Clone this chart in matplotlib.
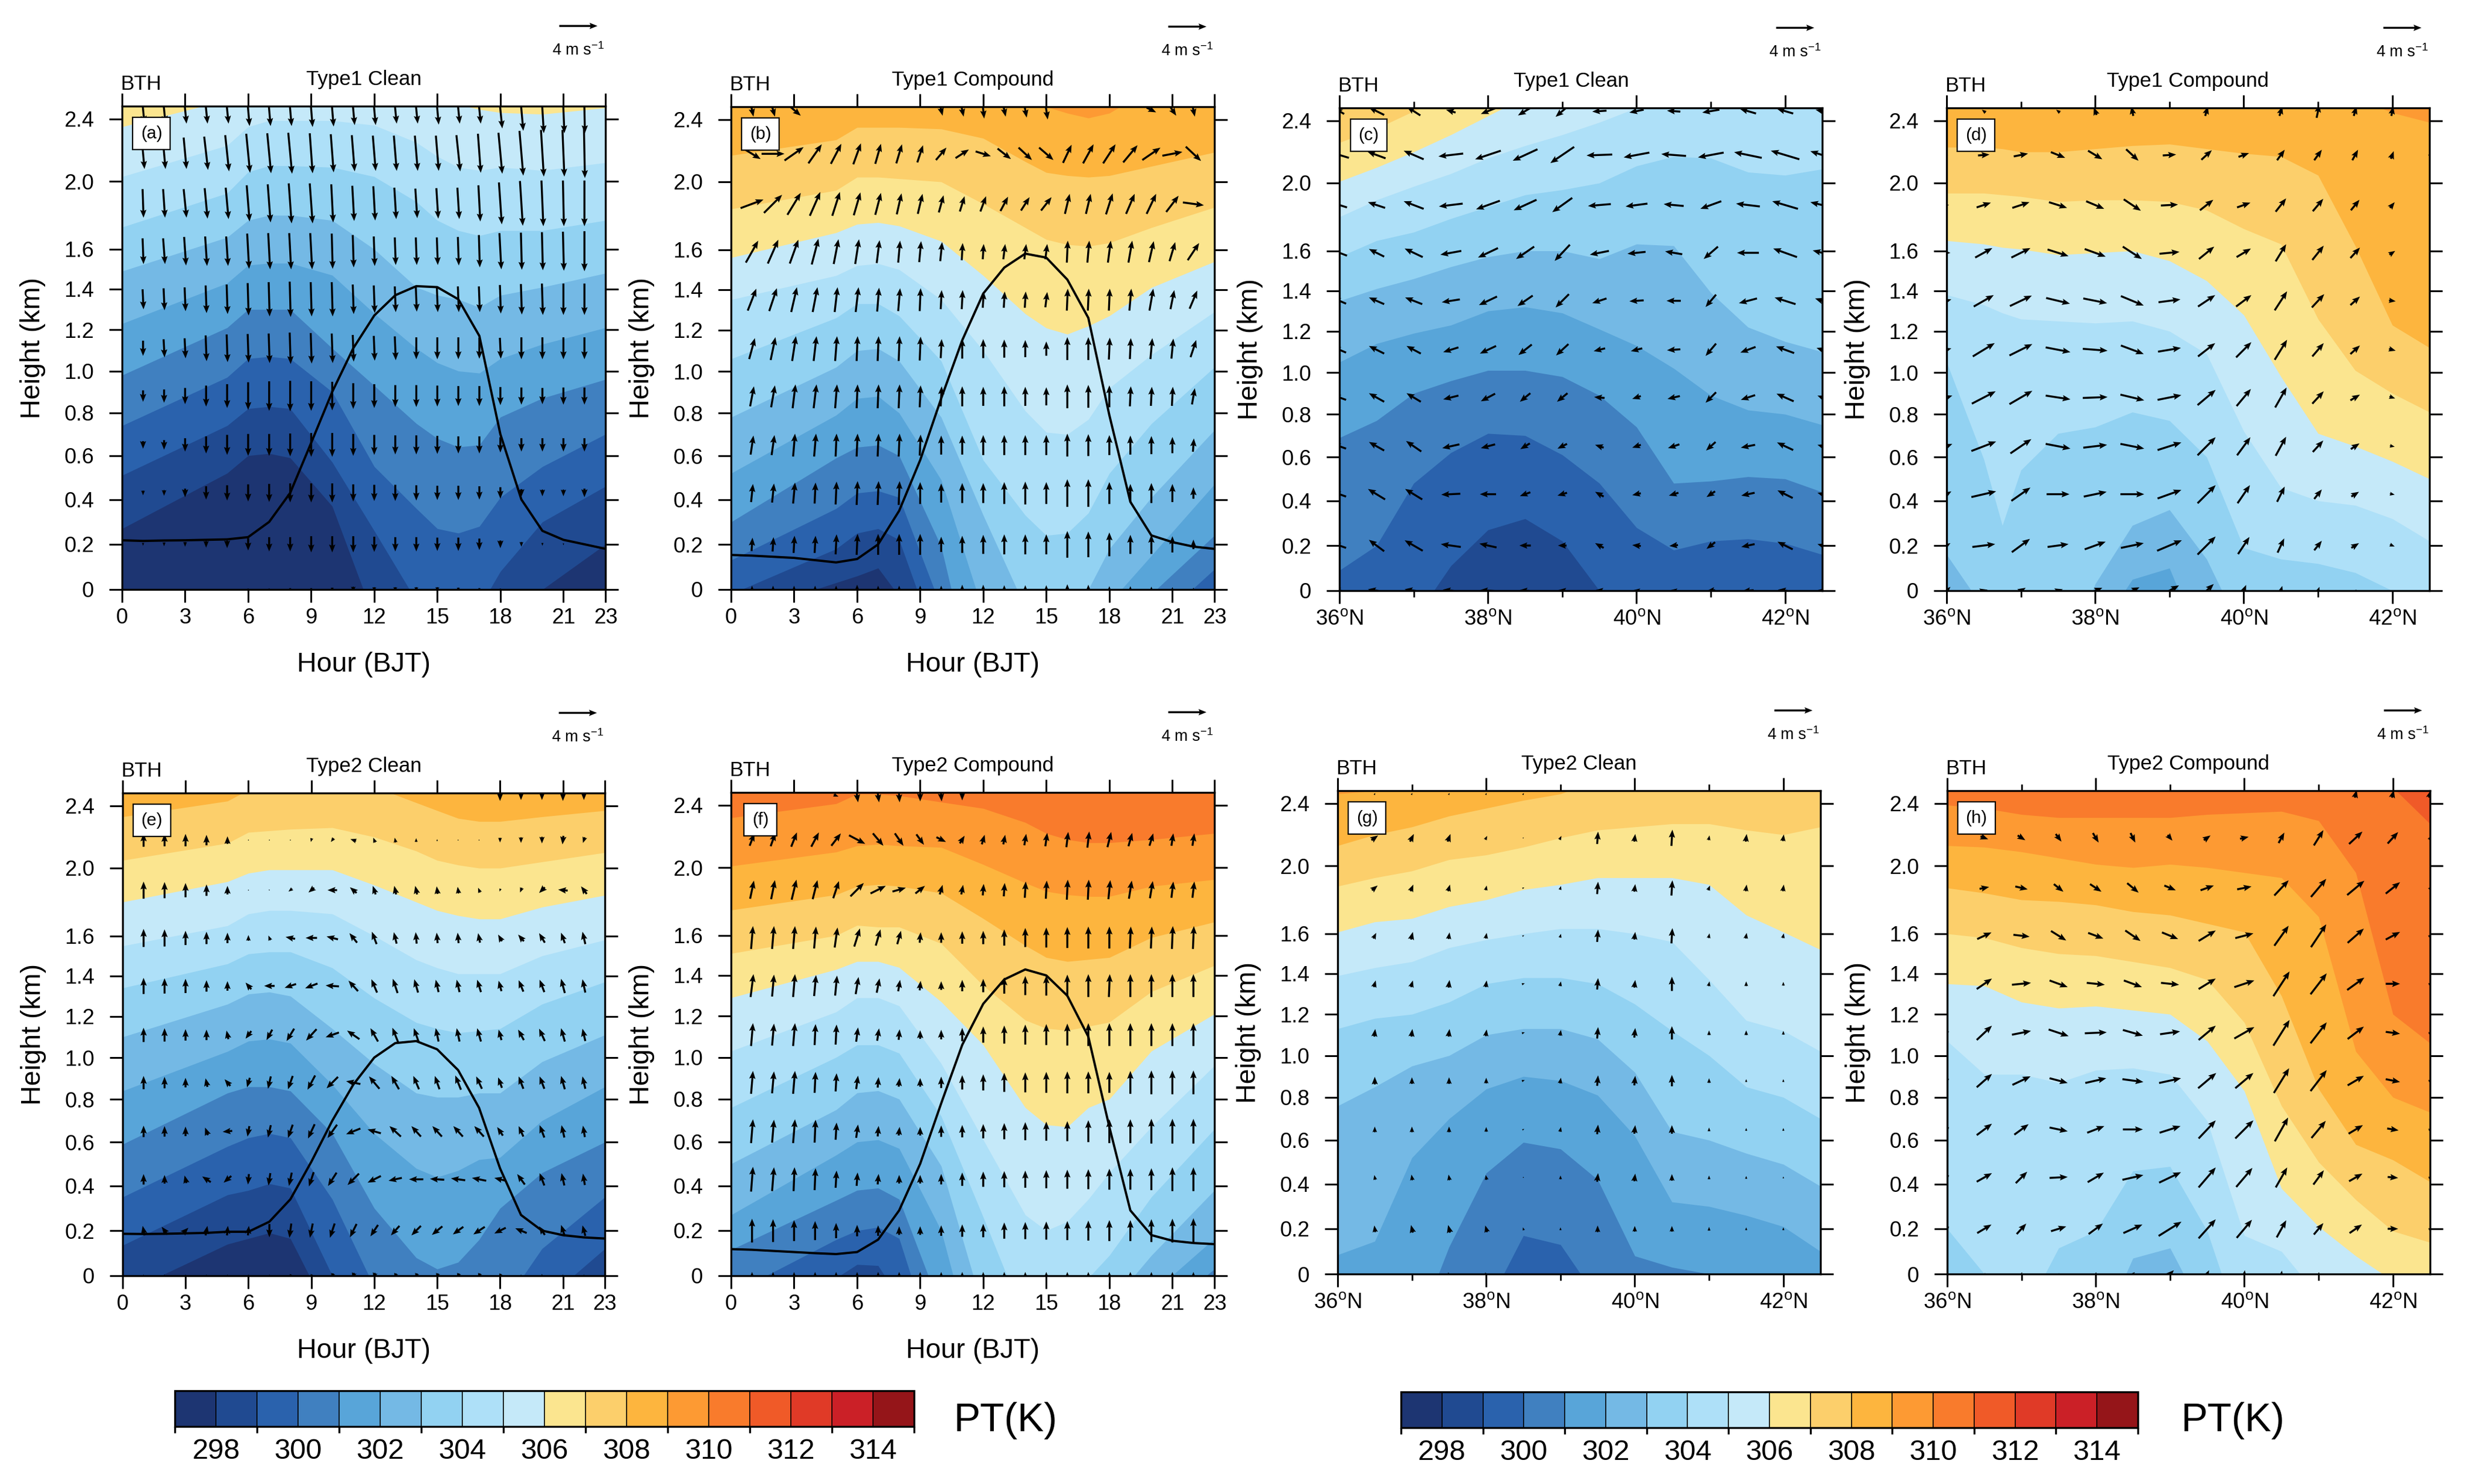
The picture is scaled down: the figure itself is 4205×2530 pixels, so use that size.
import numpy as np
import matplotlib
matplotlib.use("Agg")
import matplotlib.pyplot as plt
from matplotlib.cm import ScalarMappable
from matplotlib.colors import BoundaryNorm, ListedColormap

plt.rcParams['font.family'] = ['Liberation Sans', 'DejaVu Sans']
plt.rcParams['mathtext.default'] = 'regular'

colores = ['#1d3572', '#204a91', '#2a62ad', '#4080c0', '#58a5d9', '#74b9e5', '#92d2f2', '#aee0f8', '#c5e9f9',
           '#fbe58f', '#fccf6b', '#fdb53e', '#fd9a33', '#f97b2c', '#f05a28', '#e03a27', '#cb2027', '#951519']
pt_limites = list(range(297, 316))
pt_ticks = list(range(298, 315, 2))

altura_ticks = [0, 0.2, 0.4, 0.6, 0.8, 1.0, 1.2, 1.4, 1.6, 2.0, 2.4]
altura_labels = ['0', '0.2', '0.4', '0.6', '0.8', '1.0', '1.2', '1.4', '1.6', '2.0', '2.4']
altura_escala = [-1, 0, 0.2, 0.4, 0.6, 0.8, 1.0, 1.2, 1.4, 1.6, 2.0, 2.4, 2.48, 3.5]
fraccion_escala = [-0.4675, 0, 0.0935, 0.1862, 0.277, 0.3656, 0.452, 0.5375, 0.6214, 0.704, 0.8445, 0.9734, 1.0, 1.33]

horas_nodos = [0, 5, 6, 7, 8, 10, 12, 14, 15, 16, 17, 18, 20, 23]
lat_nodos = [36, 36.5, 37, 37.5, 38, 38.5, 39, 39.5, 40, 40.5, 41, 41.5, 42, 42.5]
lat_nodos_d = [36, 36.5, 36.75, 37, 37.5, 38, 38.5, 39, 39.5, 40, 40.5, 41, 41.5, 42, 42.5]

horas = list(range(24))
horas_flecha = list(range(1, 23))
lat_flecha = lat_nodos
niveles_flecha = [2.46, 2.18, 1.87, 1.59, 1.35, 1.11, 0.88, 0.65, 0.43, 0.2, 0]

# PT isolines: height (km) of each temperature at the x nodes
a_pt = {298: [.27, .52, .6, .61, .59, .37, -.13, -.4, -.4, -.4, -.4, -.3, 0, .2],
        299: [.51, .74, .82, .83, .82, .57, .26, -.05, -.3, -.4, -.08, .08, .3, .46],
        300: [.74, .97, 1.06, 1.07, 1.06, .9, .55, .36, .27, .25, .28, .41, .55, .7],
        301: [.98, 1.21, 1.3, 1.3, 1.3, 1.11, .93, .75, .68, .64, .65, .78, .87, .96],
        302: [1.23, 1.43, 1.52, 1.53, 1.53, 1.47, 1.28, 1.11, 1.04, 1, .99, 1.06, 1.13, 1.21],
        303: [1.49, 1.67, 1.77, 1.8, 1.8, 1.77, 1.6, 1.41, 1.37, 1.35, 1.31, 1.37, 1.41, 1.48],
        304: [1.73, 1.93, 2.06, 2.1, 2.1, 2.09, 2.03, 1.88, 1.77, 1.71, 1.68, 1.71, 1.71, 1.77],
        305: [2.03, 2.23, 2.35, 2.39, 2.39, 2.39, 2.36, 2.25, 2.16, 2.09, 2.07, 2.09, 2.07, 2.12],
        306: [2.35, 2.52, 2.55, 2.6, 2.6, 2.6, 2.6, 2.6, 2.55, 2.49, 2.46, 2.44, 2.43, 2.47]}
b_pt = {298: [-.12, .03, .06, .095, -.03, -.3, -.4, -.4, -.4, -.4, -.4, -.4, -.4, -.4],
        299: [-.02, .18, .25, .27, .22, -.3, -.3, -.3, -.3, -.3, -.3, -.3, -.3, -.05],
        300: [.13, .36, .43, .44, .41, -.08, -.4, -.4, -.4, -.4, -.4, -.4, -.165, .09],
        301: [.3, .59, .64, .65, .6, .19, -.6, -.6, -.6, -.6, -.6, -.6, -.02, .24],
        302: [.52, .79, .87, .88, .8, .49, -.1, -.5, -.5, -.5, -.4, -.06, .15, .47],
        303: [.78, 1.02, 1.1, 1.11, 1.05, .78, .33, -.08, -.12, -.1, 0, .18, .41, .72],
        304: [1.06, 1.26, 1.33, 1.33, 1.27, 1.05, .58, .33, .24, .25, .34, .52, .75, 1.02],
        305: [1.35, 1.47, 1.52, 1.53, 1.5, 1.35, 1.1, .81, .71, .7, .77, .92, 1.08, 1.29],
        306: [1.56, 1.7, 1.75, 1.76, 1.74, 1.65, 1.47, 1.28, 1.21, 1.18, 1.22, 1.27, 1.41, 1.54],
        307: [1.84, 1.95, 2.03, 2.03, 2.02, 2.0, 1.87, 1.73, 1.66, 1.63, 1.62, 1.64, 1.73, 1.85],
        308: [2.17, 2.27, 2.35, 2.35, 2.35, 2.34, 2.28, 2.13, 2.06, 2.04, 2.03, 2.04, 2.1, 2.19],
        309: [2.6, 2.6, 2.6, 2.6, 2.6, 2.6, 2.6, 2.6, 2.48, 2.44, 2.41, 2.44, 2.6, 2.6]}
e_pt = {298: [-.08, .14, .165, .19, .165, -.2, -.4, -.4, -.4, -.4, -.4, -.4, -.4, -.4],
        299: [.135, .36, .38, .41, .39, 0, -.4, -.4, -.4, -.4, -.4, -.4, -.12, .12],
        300: [.35, .58, .62, .64, .62, .34, -.05, -.4, -.4, -.4, -.4, -.15, .12, .35],
        301: [.59, .83, .86, .86, .84, .64, .3, .08, .03, .06, .16, .3, .46, .6],
        302: [.84, 1.03, 1.08, 1.09, 1.07, .87, .64, .48, .44, .47, .52, .53, .7, .86],
        303: [1.1, 1.26, 1.31, 1.32, 1.3, 1.14, .97, .83, .81, .81, .83, .83, .98, 1.11],
        304: [1.34, 1.46, 1.51, 1.52, 1.52, 1.44, 1.29, 1.17, 1.14, 1.12, 1.13, 1.14, 1.26, 1.37],
        305: [1.55, 1.66, 1.73, 1.75, 1.75, 1.73, 1.6, 1.48, 1.44, 1.41, 1.41, 1.41, 1.5, 1.58],
        306: [1.8, 1.92, 1.97, 1.99, 1.99, 1.99, 1.9, 1.8, 1.75, 1.72, 1.7, 1.7, 1.77, 1.84],
        307: [2.05, 2.16, 2.23, 2.24, 2.25, 2.26, 2.2, 2.11, 2.05, 2.02, 2.0, 2.0, 2.04, 2.1],
        308: [2.33, 2.43, 2.5, 2.6, 2.6, 2.6, 2.52, 2.42, 2.37, 2.32, 2.3, 2.3, 2.33, 2.37]}
f_pt = {299: [-.4, -.01, .05, .045, -.1, -.4, -.4, -.4, -.4, -.4, -.4, -.4, -.4, -.4],
        300: [-.08, .16, .2, .215, .165, -.42, -.5, -.5, -.5, -.5, -.5, -.5, -.5, -.5],
        301: [.115, .335, .38, .39, .34, -.15, -.5, -.5, -.5, -.5, -.5, -.5, -.2, .03],
        302: [.27, .54, .6, .61, .57, .2, -.5, -.5, -.5, -.5, -.5, -.5, -.08, .165],
        303: [.5, .75, .83, .84, .8, .49, -.15, -.5, -.5, -.5, -.5, -.13, .09, .38],
        304: [.76, 1, 1.06, 1.06, 1.02, .72, .26, -.2, -.3, -.3, -.01, .09, .35, .66],
        305: [1.03, 1.22, 1.29, 1.29, 1.25, .97, .61, .27, .2, .24, .34, .46, .67, .96],
        306: [1.29, 1.43, 1.47, 1.47, 1.44, 1.27, 1.06, .76, .68, .67, .76, .8, 1.03, 1.21],
        307: [1.51, 1.6, 1.66, 1.65, 1.65, 1.56, 1.35, 1.18, 1.14, 1.13, 1.15, 1.17, 1.32, 1.45],
        308: [1.75, 1.84, 1.89, 1.9, 1.89, 1.85, 1.7, 1.55, 1.49, 1.47, 1.48, 1.49, 1.59, 1.68],
        309: [2.01, 2.1, 2.14, 2.15, 2.14, 2.13, 2.02, 1.91, 1.86, 1.84, 1.83, 1.83, 1.89, 1.93],
        310: [2.32, 2.41, 2.47, 2.47, 2.46, 2.42, 2.38, 2.29, 2.22, 2.18, 2.16, 2.16, 2.18, 2.22]}
c_pt = {299: [-.5, -.3, -.13, .11, .27, .32, .22, 0, -.3, -.5, -.5, -.5, -.5, -.5],
        300: [.09, .2, .48, .62, .71, .7, .61, .48, .28, .18, .22, .23, .21, .16],
        301: [.69, .77, .9, .96, 1.01, 1.01, .98, .89, .74, .48, .49, .51, .5, .44],
        302: [1.05, 1.14, 1.19, 1.23, 1.3, 1.32, 1.29, 1.21, 1.13, 1.02, .89, .82, .8, .75],
        303: [1.35, 1.41, 1.46, 1.52, 1.57, 1.6, 1.6, 1.56, 1.64, 1.63, 1.39, 1.22, 1.15, 1.1],
        304: [1.57, 1.66, 1.71, 1.79, 1.86, 1.93, 1.96, 2.0, 2.11, 2.17, 2.16, 2.07, 2.05, 2.09],
        305: [1.8, 1.9, 1.98, 2.06, 2.16, 2.24, 2.31, 2.39, 2.48, 2.55, 2.6, 2.6, 2.6, 2.6],
        306: [2.01, 2.1, 2.2, 2.31, 2.43, 2.55, 2.6, 2.6, 2.6, 2.6, 2.6, 2.6, 2.6, 2.6],
        307: [2.26, 2.35, 2.46, 2.55, 2.6, 2.6, 2.6, 2.6, 2.6, 2.6, 2.6, 2.6, 2.6, 2.6]}
d_pt = {302: [-.5, -.5, -.5, -.5, -.5, -.2, .05, .1, -.3, -.5, -.5, -.5, -.5, -.5, -.5],
        303: [.16, -.08, -.3, -.4, -.4, .03, .29, .36, .14, -.2, -.5, -.5, -.5, -.5, -.5],
        304: [1.05, .59, .29, .54, .71, .74, .81, .77, .6, .19, .14, .12, .08, 0, -.03],
        305: [1.38, 1.33, 1.29, 1.26, 1.25, 1.24, 1.25, 1.2, 1.09, .72, .46, .4, .38, .32, .22],
        306: [1.66, 1.64, 1.62, 1.61, 1.58, 1.59, 1.6, 1.55, 1.45, 1.28, .98, .71, .65, .58, .5],
        307: [1.94, 1.94, 1.93, 1.92, 1.89, 1.9, 1.9, 1.89, 1.84, 1.73, 1.64, 1.26, 1.01, .9, .81],
        308: [2.23, 2.23, 2.22, 2.2, 2.2, 2.22, 2.24, 2.25, 2.22, 2.19, 2.17, 2.05, 1.63, 1.23, 1.12],
        309: [2.6, 2.6, 2.6, 2.6, 2.6, 2.6, 2.6, 2.6, 2.6, 2.6, 2.6, 2.6, 2.55, 2.45, 2.39]}
g_pt = {300: [-.5, -.5, -.5, -.5, -.15, .17, .13, -.11, -.5, -.5, -.5, -.5, -.5, -.5],
        301: [-.5, -.5, -.3, .12, .45, .59, .56, .42, .08, .03, 0, -.3, -.5, -.5],
        302: [.085, .145, .52, .7, .84, .9, .88, .81, .62, .32, .3, .26, .21, .1],
        303: [.76, .85, .95, 1, 1.1, 1.13, 1.13, 1.08, .92, .64, .6, .54, .49, .39],
        304: [1.13, 1.18, 1.2, 1.26, 1.35, 1.38, 1.38, 1.35, 1.25, 1.12, 1, .85, .8, .7],
        305: [1.39, 1.43, 1.46, 1.53, 1.57, 1.6, 1.63, 1.63, 1.6, 1.56, 1.37, 1.17, 1.12, 1.02],
        306: [1.61, 1.67, 1.69, 1.76, 1.8, 1.86, 1.89, 1.93, 1.93, 1.93, 1.89, 1.71, 1.61, 1.52],
        307: [1.88, 1.93, 1.97, 2.04, 2.07, 2.12, 2.18, 2.23, 2.25, 2.27, 2.27, 2.23, 2.2, 2.25],
        308: [2.13, 2.2, 2.25, 2.32, 2.37, 2.42, 2.46, 2.55, 2.6, 2.6, 2.6, 2.6, 2.6, 2.6],
        309: [2.46, 2.48, 2.52, 2.6, 2.6, 2.6, 2.6, 2.6, 2.6, 2.6, 2.6, 2.6, 2.6, 2.6]}
h_pt = {303: [-.5, -.5, -.5, -.5, -.3, .07, .115, -.2, -.5, -.5, -.5, -.5, -.5, -.5],
        304: [.2, 0, -.2, .115, .19, .46, .48, .19, -.3, -.5, -.5, -.5, -.5, -.5],
        305: [1.07, .91, .91, .87, .93, .94, .91, .69, .17, .1, -.1, -.5, -.5, -.5],
        306: [1.35, 1.34, 1.26, 1.23, 1.24, 1.22, 1.2, 1.07, .83, .38, .21, .08, -.03, -.1],
        307: [1.6, 1.58, 1.53, 1.5, 1.49, 1.46, 1.43, 1.37, 1.16, .76, .5, .33, .19, .14],
        308: [1.87, 1.84, 1.8, 1.79, 1.77, 1.73, 1.71, 1.66, 1.61, 1.29, .84, .58, .51, .41],
        309: [2.13, 2.12, 2.09, 2.05, 2.01, 1.99, 2.01, 1.99, 1.96, 1.93, 1.7, 1.02, .8, .73],
        310: [2.39, 2.37, 2.33, 2.31, 2.31, 2.31, 2.31, 2.33, 2.34, 2.35, 2.29, 1.96, 1.2, 1.06],
        311: [2.6, 2.6, 2.6, 2.6, 2.6, 2.6, 2.6, 2.6, 2.6, 2.6, 2.6, 2.6, 2.5, 2.27]}

# boundary layer height (km), hourly
a_pbl = [.218, .215, .217, .218, .22, .222, .232, .3, .43, .66, .9, 1.11, 1.27, 1.37, 1.415, 1.41, 1.35, 1.17, .7, .4, .26, .22, .2, .18]
b_pbl = [.153, .15, .145, .14, .13, .12, .135, .2, .35, .58, .87, 1.15, 1.38, 1.51, 1.58, 1.56, 1.45, 1.26, .79, .39, .24, .21, .19, .18]
e_pbl = [.186, .185, .186, .188, .19, .195, .195, .24, .34, .51, .7, .87, 1.0, 1.07, 1.08, 1.04, .94, .76, .48, .27, .2, .18, .17, .165]
f_pbl = [.118, .115, .11, .105, .1, .096, .105, .16, .29, .5, .78, 1.06, 1.26, 1.38, 1.43, 1.4, 1.3, 1.1, .67, .29, .18, .155, .145, .14]

# wind arrows in 0.1 m/s, rows from top level to ground
a_u = [[3, 3, 3, 3, 3, 3, 3, 3, 3, 3, 3, 3, 3, 3, 3, 3, 3, 4, 4, 3, 2, 1],
       [3, 3, 3, 4, 4, 4, 4, 4, 3, 3, 3, 3, 3, 3, 3, 4, 3, 4, 4, 3, 2, 1],
       [1, 2, 3, 3, 3, 3, 3, 3, 3, 2, 2, 2, 2, 2, 2, 2, 2, 3, 3, 2, 1, 0],
       [1, 2, 2, 2, 2, 2, 2, 2, 2, 1, 1, 1, 1, 1, 1, 1, 1, 2, 1, 1, 1, 0],
       [1, 1, 1, 1, 1, 1, 1, 1, 1, 1, 1, 1, 1, 1, 1, 1, 1, 1, 1, 1, 0, 0],
       [0, 1, 1, 1, 1, 1, 1, 1, 1, 1, 1, 1, 1, 0, 0, 0, 0, 1, 0, 0, 0, 0],
       [0] * 22, [0] * 22, [0] * 22, [0] * 22, [0] * 22]
a_w = [[-30, -30, -30, -30, -30, -35, -35, -35, -37, -36, -33, -33, -30, -30, -32, -30, -30, -40, -45, -50, -50, -50],
       [-33, -33, -33, -35, -38, -41, -42, -43, -42, -40, -38, -37, -37, -37, -37, -38, -41, -43, -47, -49, -49, -52],
       [-30, -30, -30, -32, -33, -38, -40, -42, -42, -40, -37, -36, -33, -31, -32, -33, -38, -44, -47, -48, -48, -48],
       [-27, -27, -30, -31, -31, -37, -38, -38, -38, -37, -34, -31, -29, -29, -29, -30, -34, -38, -39, -40, -41, -42],
       [-21, -23, -25, -29, -31, -34, -36, -37, -36, -36, -31, -29, -27, -26, -27, -27, -27, -30, -32, -33, -33, -33],
       [-16, -19, -21, -27, -29, -30, -31, -33, -32, -31, -28, -26, -25, -23, -23, -23, -22, -22, -23, -23, -23, -23],
       [-12, -14, -17, -22, -25, -29, -31, -32, -31, -30, -27, -25, -23, -23, -22, -21, -21, -19, -18, -17, -18, -18],
       [-8, -10, -14, -18, -21, -23, -23, -24, -25, -25, -23, -21, -20, -20, -19, -18, -18, -16, -14, -14, -14, -14],
       [-5, -6, -9, -14, -16, -18, -19, -20, -20, -20, -18, -17, -17, -16, -15, -15, -14, -12, -8, -7, -7, -9],
       [-3, -4, -5, -7, -8, -13, -15, -15, -17, -17, -17, -16, -15, -15, -14, -14, -12, -8, -5, -3, -2, -2],
       [0, 0, 0, 0, -1, -2, -2, -3, -3, -4, -6, -5, -5, -5, -5, -4, -3, -2, 0, 0, 0, 0]]
b_u = [[3, 4, 14, 0, 0, 0, 0, 0, 0, 3, 3, 2, 3, 3, 3, 0, 0, 0, 0, 10, 8, 3],
       [18, 24, 20, 14, 11, 8, 6, 6, 6, 11, 14, 16, 14, 14, 15, 9, 11, 13, 15, 19, 21, 16],
       [24, 19, 14, 11, 8, 7, 6, 5, 5, 5, 5, 6, 8, 9, 11, 5, 5, 7, 9, 10, 13, 22],
       [13, 11, 9, 7, 5, 4, 3, 2, 2, 2, 1, 1, 2, 2, 2, 1, 2, 3, 4, 5, 6, 12],
       [9, 8, 6, 5, 3, 3, 2, 2, 1, 1, 1, 1, 1, 1, 2, 1, 1, 1, 2, 4, 4, 8],
       [6, 5, 4, 3, 2, 1, 1, 1, 1, 1, 0, 0, 0, 0, 0, 0, 0, 1, 1, 2, 2, 6],
       [4, 4, 3, 3, 2, 1, 1, 1, 1, 1, 0, 0, 0, 0, 0, 0, 0, 0, 1, 1, 1, 3],
       [3, 3, 2, 2, 1, 1, 1, 1, 1, 0, 0, 0, 0, 0, 0, 0, 0, 0, 0, 0, 0, 1],
       [2, 2, 2, 1, 1, 1, 1, 1, 0, 0, 0, 0, 0, 0, 0, 0, 0, 0, 0, 0, 0, 0],
       [1, 1, 1, 1, 1, 1, 0, 0, 0, 0, 0, 0, 0, 0, 0, 0, 0, 0, 0, 0, 0, 0],
       [0] * 22]
b_w = [[-14, -14, -12, 0, 0, 0, 0, 0, 0, -12, -14, -18, -14, -16, -20, 0, 0, 0, 0, -5, -12, -14],
       [-11, 0, 14, 20, 21, 22, 21, 20, 18, 13, 9, -5, -11, -13, -13, 19, 20, 20, 18, 13, 4, -15],
       [9, 19, 23, 25, 25, 24, 23, 22, 21, 18, 16, 16, 15, 14, 14, 21, 21, 22, 21, 21, 17, -3],
       [23, 25, 25, 27, 26, 26, 24, 23, 22, 20, 18, 16, 16, 16, 16, 23, 23, 23, 23, 22, 20, 18],
       [23, 24, 26, 26, 26, 26, 25, 24, 24, 20, 20, 17, 17, 17, 16, 23, 23, 23, 23, 23, 20, 19],
       [22, 24, 26, 26, 26, 26, 26, 26, 25, 20, 21, 20, 19, 18, 15, 24, 24, 23, 22, 22, 21, 18],
       [21, 23, 25, 25, 25, 25, 25, 25, 23, 21, 21, 20, 21, 20, 19, 25, 24, 23, 21, 20, 20, 17],
       [20, 21, 24, 24, 24, 24, 24, 24, 22, 20, 20, 21, 21, 21, 21, 24, 23, 21, 20, 19, 17, 14],
       [19, 20, 22, 22, 24, 25, 25, 25, 23, 20, 21, 21, 23, 24, 23, 29, 29, 23, 19, 21, 19, 12],
       [14, 15, 18, 18, 21, 22, 22, 22, 22, 16, 18, 20, 21, 21, 21, 28, 27, 25, 20, 20, 17, 10],
       [8, 8, 8, 8, 8, 10, 8, 8, 8, 8, 10, 10, 9, 9, 9, 11, 10, 7, 7, 6, 5, 4]]
e_u = [[0] * 22,
       [0, 0, 0, 0, 0, 0, 0, 0, -1, -3, -6, -2, -1, 0, 0, 0, 0, 0, 0, 0, -1, -2],
       [0, 0, 0, 0, 0, 0, 1, -4, -6, -10, -7, -3, -2, -2, -1, -1, -2, -1, -2, -6, -10, -6],
       [0, 0, 0, 0, 0, 0, -2, -10, -12, -12, -8, -5, -3, -1, -1, -1, -2, -4, -6, -6, -4, -3],
       [0, 0, 0, 0, 0, -6, -11, -12, -13, -14, -10, -6, -5, -4, -3, -3, -4, -3, -5, -5, -4, -3],
       [0, 0, 0, 0, -2, -6, -6, -8, -11, -14, -13, -8, -6, -5, -3, -3, -4, -3, -6, -6, -4, -3],
       [0, 0, 0, -2, -6, -3, -3, -5, -8, -12, -15, -11, -8, -6, -5, -6, -6, -4, -5, -5, -4, -3],
       [0, 0, 0, -3, -10, -2, -3, -5, -7, -10, -15, -14, -12, -10, -10, -10, -10, -6, -5, -5, -3, -2],
       [0, 0, -2, -9, -8, -1, -2, -3, -5, -9, -12, -14, -14, -15, -15, -15, -15, -12, -8, -5, -3, -2],
       [-2, -6, 6, 2, 1, 1, 0, -2, -3, -5, -7, -8, -9, -10, -11, -11, -12, -12, -12, -6, -4, -3],
       [0, 0, 0, 0, 0, 0, 0, -1, -1, -2, -2, -2, -2, -2, -2, -2, -2, -2, 0, 0, 0, 0]]
e_w = [[0, 0, 0, 0, 0, 0, 0, 0, 0, 0, 0, 0, 0, 0, 0, 0, 0, -10, -8, -8, -10, -8],
       [14, 13, 13, 11, 8, 1, -1, -1, -4, -4, 2, 5, 5, 4, 2, 1, -1, -5, -6, -7, -9, -6],
       [18, 17, 15, 12, 9, 1, -1, -3, -5, 0, 6, 9, 9, 9, 8, 7, 5, -3, -5, -6, 1, 8],
       [19, 18, 15, 13, 11, 6, 5, 2, 0, 3, 10, 13, 12, 12, 11, 11, 10, 7, 7, 10, 11, 13],
       [17, 16, 15, 12, 10, 7, 0, -4, -5, 1, 11, 14, 15, 14, 13, 13, 13, 11, 12, 13, 15, 14],
       [15, 14, 12, 11, 9, -8, -11, -13, -12, -5, 9, 14, 15, 14, 14, 14, 14, 11, 11, 13, 14, 13],
       [14, 12, 10, 9, 7, -10, -13, -14, -15, -12, 3, 13, 14, 14, 14, 15, 13, 11, 13, 13, 14, 13],
       [12, 11, 10, 8, -1, -11, -13, -14, -15, -14, -6, 4, 11, 11, 11, 11, 11, 9, 11, 13, 13, 12],
       [11, 9, 8, 6, -7, -11, -13, -14, -15, -14, -12, -7, -3, 0, 1, 2, 3, 3, 11, 13, 13, 12],
       [10, 8, 6, 10, 10, 10, -14, -15, -15, -15, -14, -12, -10, -10, -9, -8, -8, -6, 5, 9, 12, 11],
       [3, 3, 3, 3, 3, 3, 3, -3, -3, -5, -6, -6, -5, -5, -5, -5, -5, -4, 3, 4, 3, 3]]
f_u = [[0, 0, 0, 0, 5, 2, 2, 1, 0, 1, 0, 0, 0, 0, 0, 0, 0, 0, 0, 0, 0, 0],
       [5, 5, 6, 8, 10, 17, 11, 9, 8, 10, 5, 3, 2, 2, 2, 2, 2, 4, 4, 4, 2, 2],
       [4, 4, 5, 5, 6, 14, 16, 14, 10, 3, 2, 1, 1, 1, 1, 1, 1, 2, 3, 3, 2, 2],
       [2, 2, 2, 2, 3, 6, 5, 4, 1, 0, 0, 0, 0, 0, 0, 0, 0, 0, 1, 1, 1, 1],
       [3, 2, 2, 2, 2, 3, 3, 2, 1, 0, 0, 0, 0, 0, 0, 0, 0, 1, 0, 0, 0, 0],
       [2, 2, 2, 1, 1, 2, 2, 1, 0, 0, 0, 0, 0, 0, 0, 0, 0, 0, 0, 0, 0, 0],
       [2, 2, 2, 1, 1, 2, 1, 1, 0, 0, 0, 0, 0, 0, 0, 0, 0, 0, 0, 0, 0, 0],
       [2, 2, 2, 1, 1, 2, 1, 1, 0, 0, 0, 0, 0, 0, 0, 0, 0, 0, 0, 0, 0, 0],
       [2, 2, 1, 1, 1, 1, 1, 0, 0, 0, 0, 0, 0, 0, 0, 0, 0, 0, 0, 0, 0, 0],
       [0] * 22, [0] * 22]
f_w = [[0, 0, 0, 0, -2, -14, -14, -14, -12, -12, -10, 0, 0, 0, 0, 0, 0, 0, 0, 0, 0, 0],
       [13, 14, 15, 15, 13, -9, -13, -13, -11, -5, 8, 10, 10, 12, 14, 16, 17, 16, 14, 13, 13, 13],
       [19, 20, 21, 20, 18, 14, 8, 4, 8, 10, 10, 12, 14, 17, 19, 21, 21, 20, 19, 18, 17, 17],
       [24, 24, 24, 23, 21, 19, 17, 14, 11, 11, 13, 14, 17, 20, 21, 22, 23, 23, 23, 23, 24, 24],
       [24, 23, 24, 22, 21, 18, 15, 12, 10, 9, 12, 14, 17, 20, 21, 23, 24, 24, 24, 24, 24, 24],
       [24, 23, 24, 22, 21, 15, 13, 11, 9, 10, 14, 17, 19, 21, 22, 23, 24, 24, 24, 24, 24, 24],
       [24, 23, 24, 22, 19, 14, 11, 9, 9, 12, 15, 17, 20, 21, 22, 23, 23, 22, 24, 25, 25, 25],
       [25, 24, 25, 24, 18, 14, 11, 9, 9, 12, 13, 15, 17, 19, 20, 21, 23, 25, 25, 26, 26, 26],
       [26, 25, 25, 23, 18, 14, 11, 9, 9, 11, 14, 16, 17, 18, 19, 20, 21, 22, 22, 23, 25, 25],
       [25, 24, 22, 20, 16, 12, 11, 9, 9, 11, 13, 14, 17, 18, 19, 20, 21, 22, 22, 24, 25, 26],
       [8] * 22]
c_u = [[-10, -16, -14, -10, -15, -15, -14, -15, -15, -14, -18, -17, -17, -14],
       [-20, -19, -21, -26, -27, -26, -25, -27, -27, -26, -27, -29, -30, -25],
       [-16, -18, -21, -25, -25, -24, -21, -24, -23, -21, -22, -25, -27, -25],
       [-16, -16, -19, -22, -21, -19, -16, -20, -19, -18, -15, -23, -25, -20],
       [-14, -16, -18, -19, -19, -16, -14, -15, -15, -15, -11, -19, -22, -15],
       [-14, -16, -15, -16, -17, -14, -13, -12, -12, -14, -11, -16, -19, -12],
       [-14, -16, -15, -16, -15, -11, -11, -11, -9, -13, -11, -15, -18, -10],
       [-14, -16, -16, -18, -15, -10, -10, -9, -9, -12, -10, -15, -17, -10],
       [-14, -18, -18, -20, -17, -11, -10, -9, -9, -10, -9, -14, -16, -10],
       [-14, -16, -19, -21, -18, -12, -9, -9, -9, -9, -9, -14, -16, -10],
       [-14, -18, -19, -17, -17, -12, -9, -9, -7, -7, -9, -12, -15, -10]]
c_w = [[6, 8, 9, 3, -6, -9, -12, -1, -3, 1, -3, 5, 5, 3],
       [6, 7, 9, -3, -9, -12, -17, -1, -5, 2, -5, 6, 9, 8],
       [5, 6, 8, -3, -9, -11, -15, -2, -3, 2, -8, 3, 8, 6],
       [6, 8, 9, -4, -10, -13, -17, -4, -2, 3, -13, 0, 9, 5],
       [6, 7, 7, -3, -9, -11, -14, -5, -1, 0, -13, -5, 7, 5],
       [6, 8, 8, -5, -8, -11, -12, -3, -3, -1, -13, -6, 7, 4],
       [5, 9, 9, -4, -8, -9, -9, 1, -3, -3, -11, -5, 8, 4],
       [5, 9, 11, -4, -4, -6, -5, 3, -3, -4, -9, -3, 8, 3],
       [5, 11, 11, -1, 0, -4, -3, 5, -2, -3, -6, -3, 8, 3],
       [5, 12, 11, 3, 4, 0, 0, 5, 1, -1, -7, -3, 8, 3],
       [2, 3, 3, 2, 1, 1, 1, 1, 1, 1, -1, -1, 2, 1]]
d_u = [[0, -4, 0, -4, -3, -2, 0, 3, 0, 3, 3, 3, 2, 0],
       [3, 12, 15, 15, 15, 13, 14, 11, 11, 8, 8, 6, 3, 2],
       [5, 15, 18, 19, 19, 18, 18, 14, 14, 11, 11, 9, 5, 1],
       [8, 18, 20, 22, 22, 20, 21, 16, 15, 11, 12, 10, 6, 1],
       [10, 21, 23, 25, 25, 24, 23, 18, 16, 13, 13, 10, 7, 1],
       [10, 23, 24, 26, 26, 24, 24, 18, 16, 13, 12, 10, 7, 1],
       [12, 25, 24, 26, 26, 25, 25, 19, 15, 12, 12, 10, 6, 1],
       [12, 26, 22, 26, 25, 25, 25, 19, 14, 11, 11, 9, 5, 1],
       [10, 26, 20, 24, 24, 25, 25, 19, 13, 8, 8, 8, 5, 1],
       [8, 24, 19, 22, 22, 24, 26, 19, 12, 7, 8, 8, 5, 1],
       [8, 8, 10, 10, 15, 15, 20, 15, 5, 3, 3, 3, 1, 0]]
d_w = [[0, 3, 0, 3, 8, 10, 0, 10, 0, 10, 14, 10, 10, 0],
       [0, 1, 3, -6, -9, -12, 1, 10, 4, 11, 11, 11, 8, 1],
       [0, 5, 6, -6, -8, -12, 1, 11, 5, 14, 13, 11, 6, 0],
       [0, 10, 10, -7, -8, -13, 2, 13, 9, 18, 15, 11, 4, 0],
       [3, 12, 11, -6, -5, -10, 3, 12, 12, 20, 14, 9, -1, 0],
       [3, 14, 12, -5, -2, -9, 4, 14, 16, 21, 14, 9, -2, 0],
       [4, 13, 14, -4, 1, -6, 5, 16, 18, 21, 13, 6, -2, 0],
       [5, 10, 15, -5, 3, -5, 8, 19, 19, 20, 12, 6, -1, 0],
       [6, 6, 14, 0, 5, 0, 9, 19, 19, 16, 10, 5, -1, 0],
       [5, 3, 14, 3, 8, 5, 11, 19, 18, 15, 10, 5, -2, 0],
       [8, 2, 6, 3, 6, 7, 11, 14, 12, 10, 8, 2, 0, 0]]
g_u = [[0, 1, 1, 1, 1, 1, 0, 0, 0, 0, 0, 0, 0, 0],
       [0, 7, 4, 3, 2, 1, 2, 1, 1, 1, 1, 1, 1, 0],
       [0, 6, 3, 2, 1, 2, 1, 1, 1, 1, 2, 1, 1, 0],
       [0, 3, 2, 1, 1, 2, 1, 1, 1, 1, 1, 1, 1, 0],
       [0, 2, 2, 1, 1, 3, 1, 1, 1, 0, 1, 0, 0, 0],
       [0, 1, 1, 1, 1, 3, 1, 1, 1, 0, 0, 0, 0, 0],
       [0, 0, 0, 0, 0, 3, 1, 1, 1, 0, 0, 0, 0, 0],
       [0, 0, 0, 0, 0, 2, 1, 1, 1, 0, 0, 0, 0, 0],
       [0, -1, -1, -1, -1, 0, 0, 1, 1, 0, 0, 0, 0, 0],
       [0, -1, -2, -2, -2, -1, 0, 0, 0, 0, 0, 0, 0, 0],
       [0, 2, 2, 3, 3, 2, 0, 0, 0, 0, 0, 0, 0, 0]]
g_w = [[0, 2, 2, 2, 2, 2, 0, 0, 0, 0, 0, 0, 0, 0],
       [1, 5, 8, 8, 4, 1, 4, 13, 8, 17, 5, 8, 7, 1],
       [1, 5, 7, 7, 5, 1, 4, 13, 8, 16, 5, 7, 7, 1],
       [1, 6, 8, 7, 6, 1, 4, 13, 8, 16, 5, 6, 5, 1],
       [1, 7, 7, 8, 7, 1, 5, 12, 8, 15, 5, 5, 4, 1],
       [1, 8, 8, 8, 7, 1, 6, 12, 10, 14, 5, 5, 4, 1],
       [0, 8, 7, 7, 6, 1, 6, 11, 10, 12, 5, 3, 3, 0],
       [0, 6, 6, 6, 5, 1, 5, 10, 9, 9, 4, 3, 3, 0],
       [0, 5, 6, 6, 5, 1, 4, 9, 8, 7, 4, 3, 2, 0],
       [0, 7, 8, 8, 7, 3, 3, 7, 6, 6, 4, 3, 3, 0],
       [0, 1, 1, -1, -1, 0, 0, 0, 0, 0, 0, 0, 0, 0]]
h_u = [[0, 0, 0, 0, 0, 0, 0, 0, 0, 0, 0, 2, 2, 2],
       [1, 8, 8, 6, 6, 5, 5, 7, 9, 6, 10, 14, 11, 2],
       [2, 10, 13, 10, 12, 12, 12, 14, 15, 15, 16, 18, 15, 2],
       [3, 15, 17, 16, 16, 16, 17, 18, 19, 15, 16, 17, 15, 3],
       [3, 16, 20, 19, 19, 19, 19, 18, 21, 17, 17, 18, 15, 3],
       [4, 16, 20, 21, 23, 21, 21, 18, 21, 17, 17, 17, 15, 3],
       [4, 16, 19, 19, 22, 22, 23, 19, 19, 16, 17, 17, 15, 3],
       [4, 16, 15, 19, 18, 21, 22, 18, 19, 14, 15, 15, 12, 3],
       [4, 16, 12, 19, 17, 22, 23, 18, 17, 12, 11, 14, 11, 3],
       [4, 15, 10, 16, 15, 20, 24, 18, 16, 10, 10, 13, 11, 3],
       [2, 2, 1, 1, 1, 4, 8, 4, 1, 1, 1, 0, 0, 0]]
h_w = [[0, 0, 0, 0, 0, 0, 0, 0, 0, 0, 0, 8, 8, 8],
       [0, -3, -5, -8, -10, -10, -6, 5, 2, 11, 16, 13, 12, 4],
       [0, 2, -3, -8, -8, -10, -5, 5, 3, 16, 19, 15, 12, 3],
       [1, 7, -2, -10, -6, -11, -7, 11, 5, 21, 24, 15, 8, 2],
       [2, 11, 2, -7, -2, -7, -2, 11, 7, 26, 22, 13, 0, 1],
       [3, 15, 4, -7, 1, -6, 3, 15, 12, 27, 22, 13, -2, 1],
       [4, 14, 9, -5, 5, -3, 5, 16, 16, 26, 22, 10, -3, 1],
       [5, 12, 11, -4, 7, 0, 7, 19, 19, 25, 18, 9, -2, 1],
       [5, 9, 12, 1, 10, 5, 11, 21, 20, 21, 15, 8, -1, 1],
       [5, 9, 11, 5, 11, 9, 15, 20, 19, 18, 12, 9, 0, 1],
       [5, 2, 4, 2, 4, 4, 8, 8, 8, 7, 4, 0, 0, 0]]


def altura_a_fraccion(h):
    return np.interp(h, altura_escala, fraccion_escala)


def fraccion_a_altura(f):
    return np.interp(f, fraccion_escala, altura_escala)


def panel(caja, etiqueta, titulo, x_nodos, pt, u, w, pbl=None, tipo='hora', dx_titulo=0):
    izq, der, arr, aba = caja
    ax = fig.add_axes([izq / 4205, 1 - aba / 2530, (der - izq) / 4205, (aba - arr) / 2530])
    ax.set_yscale('function', functions=(altura_a_fraccion, fraccion_a_altura))

    # isolines stacked from coldest to warmest
    temps = sorted(pt)
    ax.set_facecolor(colores[temps[0] - 298])
    for t in temps:
        ax.fill_between(x_nodos, pt[t], 3.5, color=colores[t - 297], lw=0)

    xq = horas_flecha if tipo == 'hora' else lat_flecha
    X, Y = np.meshgrid(xq, niveles_flecha)
    U = np.array(u) / 10
    W = np.array(w) / 10
    vacio = (U == 0) & (W == 0)
    Q = ax.quiver(X, Y, np.ma.masked_where(vacio, U), np.ma.masked_where(vacio, W), angles='uv',
                  scale_units='width', scale=50.7, units='width', width=0.0041, pivot='mid',
                  headwidth=3.2, headlength=4.0, headaxislength=3.5, minlength=0.5, color='k', zorder=3)
    if pbl is not None:
        ax.plot(horas, pbl, color='k', lw=0.7, zorder=4)

    ax.set_ylim(0, 2.48)
    ax.set_yticks(altura_ticks)
    ax.set_yticklabels(altura_labels)
    ax.set_yticks([], minor=True)
    if tipo == 'hora':
        ax.set_xlim(0, 23)
        ax.set_xticks([0, 3, 6, 9, 12, 15, 18, 21, 23])
        ax.set_xticklabels(['0', '3', '6', '9', '12', '15', '18', '21', '23'])
        ax.text(0.5, -0.155, 'Hour (BJT)', transform=ax.transAxes, fontsize=8.4, ha='center', va='center')
    else:
        ax.set_xlim(36, 42.5)
        ax.set_xticks([36, 38, 40, 42])
        ax.set_xticklabels(['36$^{o}$N', '38$^{o}$N', '40$^{o}$N', '42$^{o}$N'])
        ax.set_xticks([37, 39, 41], minor=True)
        ax.tick_params(axis='x', which='minor', direction='out', length=2.0, width=0.5, top=True, bottom=True)
    ax.tick_params(axis='both', which='major', direction='out', length=4, width=0.55, labelsize=6.6,
                   top=True, right=True)
    ax.tick_params(axis='y', pad=4.6)
    ax.tick_params(axis='x', pad=1.6)
    for s in ax.spines.values():
        s.set_linewidth(0.6)

    ax.text(-0.185, 0.5, 'Height (km)', transform=ax.transAxes, fontsize=8.4, rotation=90, ha='center', va='center')
    ax.text(0.5 + dx_titulo, 1.055, titulo, transform=ax.transAxes, fontsize=6.3, ha='center', va='center')
    ax.text(-0.003, 1.046, 'BTH', transform=ax.transAxes, fontsize=6.3, ha='left', va='center')
    ax.text(0.0607, 0.943, etiqueta, transform=ax.transAxes, fontsize=5.4, ha='center', va='center', zorder=6,
            bbox=dict(boxstyle='square,pad=0.45', fc='white', ec='k', lw=0.4))

    ax.quiverkey(Q, 0.944, 1.166, 4, '', coordinates='axes', labelpos='S')
    ax.text(0.944, 1.115, '4 m s$^{-1}$', transform=ax.transAxes, fontsize=4.9, ha='center', va='center')


def barra_color(izq, der, arr, aba, x_texto):
    cax = fig.add_axes([izq / 4205, 1 - aba / 2530, (der - izq) / 4205, (aba - arr) / 2530])
    norma = BoundaryNorm(pt_limites, len(colores))
    cb = fig.colorbar(ScalarMappable(norm=norma, cmap=ListedColormap(colores)), cax=cax, orientation='horizontal',
                      ticks=pt_ticks, drawedges=True, spacing='uniform')
    cb.ax.tick_params(length=0, labelsize=8.8, pad=3.6)
    cb.outline.set_linewidth(0.6)
    cb.dividers.set_linewidth(0.3)
    fig.text(x_texto / 4205, 1 - 2422 / 2530, 'PT(K)', fontsize=12.2, ha='center', va='center')


fig = plt.figure(figsize=(4205 / 400, 2530 / 400), dpi=400)

panel((208, 1032, 181, 1005), '(a)', 'Type1 Clean', horas_nodos, a_pt, a_u, a_w, a_pbl)
panel((1246, 2070, 182, 1005), '(b)', 'Type1 Compound', horas_nodos, b_pt, b_u, b_w, b_pbl)
panel((2283, 3106, 184, 1007), '(c)', 'Type1 Clean', lat_nodos, c_pt, c_u, c_w, tipo='lat', dx_titulo=-0.02)
panel((3318, 4141, 184, 1007), '(d)', 'Type1 Compound', lat_nodos_d, d_pt, d_u, d_w, tipo='lat')
panel((209, 1031, 1352, 2175), '(e)', 'Type2 Clean', horas_nodos, e_pt, e_u, e_w, e_pbl)
panel((1246, 2070, 1351, 2175), '(f)', 'Type2 Compound', horas_nodos, f_pt, f_u, f_w, f_pbl)
panel((2280, 3103, 1348, 2172), '(g)', 'Type2 Clean', lat_nodos, g_pt, g_u, g_w, tipo='lat')
panel((3319, 4142, 1348, 2172), '(h)', 'Type2 Compound', lat_nodos, h_pt, h_u, h_w, tipo='lat')

barra_color(298, 1558, 2371, 2432, 1714)
barra_color(2388, 3644, 2373, 2434, 3806)

fig.savefig('out.png', dpi=400)
